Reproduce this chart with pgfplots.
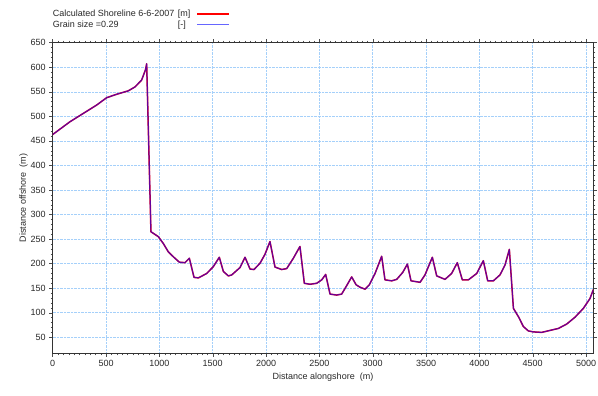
\documentclass[border=0pt]{standalone}
\usepackage{pgfplots}
\pgfplotsset{compat=1.18}
\usepackage{fontspec}
\setmainfont{Liberation Sans}
\definecolor{gridblue}{RGB}{165,208,250}
\definecolor{txt}{RGB}{40,40,40}
\begin{document}
\begin{tikzpicture}
\path[use as bounding box] (-52.7bp,-42.7bp) rectangle (545.3bp,353.3bp);
\begin{axis}[
  scale only axis,
  width=540.6bp, height=310.6bp,
  xmin=0, xmax=5068, ymin=17.4, ymax=650,
  xtick={0,500,...,5000}, ytick={50,100,...,650},
  minor x tick num=9, minor y tick num=4,
  tick align=outside,
  major tick length=3.5bp, minor tick length=2bp,
  every tick/.style={black!70, line width=0.4pt},
  axis line style={black!80, line width=0.6pt},
  grid=major,
  major grid style={gridblue, densely dotted, line width=0.5pt},
  /pgf/number format/assume math mode=true,
  /pgf/number format/1000 sep={},
  ticklabel style={font=\fontsize{9bp}{10bp}\selectfont, text=txt},
  xlabel={Distance alongshore\ \ (m)},
  ylabel={Distance offshore\ \ (m)},
  label style={font=\fontsize{9bp}{10bp}\selectfont, text=txt},
  xlabel style={at={(axis description cs:0.5,0)}, anchor=north, yshift=-19.5bp, inner sep=0pt},
  ylabel style={yshift=-4bp},
  legend plot pos=right,
  legend cell align=left,
  legend style={at={(0,1)}, anchor=south west, yshift=13.2bp, xshift=0bp,
    draw=none, fill=none, inner sep=0pt, row sep=2bp, column sep=6bp,
    font=\fontsize{9bp}{11bp}\selectfont, text=txt,
    nodes={inner sep=0pt, text height=7bp, text depth=2bp}},
  legend image code/.code={\draw[#1] (0bp,0bp) -- (32bp,0bp);},
]
\addplot[red, line width=1.5pt, line join=round] coordinates {
(0,463) (162,489) (287,506) (412,523) (506,538) (600,545) (709,552) (772,560)
(834,574) (870,595) (881,607) (921,265) (990,255) (1037,241) (1084,224)
(1131,214) (1187,203) (1240,202) (1281,211) (1325,172) (1366,171) (1444,180)
(1506,194) (1562,213) (1600,184) (1647,175) (1678,177) (1756,192) (1803,213)
(1850,189) (1887,188) (1944,201) (1990,219) (2037,245) (2084,193) (2147,188)
(2194,190) (2256,211) (2318,235) (2359,160) (2412,158) (2475,160) (2522,167)
(2559,178) (2600,138) (2662,136) (2709,138) (2750,153) (2803,173) (2844,157)
(2881,152) (2928,148) (2969,157) (3022,180) (3084,215) (3115,167) (3178,165)
(3225,168) (3281,182) (3325,199) (3359,165) (3444,162) (3490,177) (3559,213)
(3600,175) (3678,168) (3740,180) (3793,202) (3840,167) (3897,167) (3975,180)
(4037,206) (4078,165) (4131,165) (4193,177) (4240,197) (4281,229) (4319,109)
(4366,92) (4412,72) (4459,63) (4506,61) (4584,60) (4662,64) (4740,68)
(4819,77) (4897,91) (4975,109) (5037,129) (5068,147)
};
\addlegendentry{\makebox[125bp][l]{Calculated Shoreline 6-6-2007}[m]}
\addplot[blue, opacity=0.6, line width=1.2pt, line join=round] coordinates {
(0,463) (162,489) (287,506) (412,523) (506,538) (600,545) (709,552) (772,560)
(834,574) (870,595) (881,607) (921,265) (990,255) (1037,241) (1084,224)
(1131,214) (1187,203) (1240,202) (1281,211) (1325,172) (1366,171) (1444,180)
(1506,194) (1562,213) (1600,184) (1647,175) (1678,177) (1756,192) (1803,213)
(1850,189) (1887,188) (1944,201) (1990,219) (2037,245) (2084,193) (2147,188)
(2194,190) (2256,211) (2318,235) (2359,160) (2412,158) (2475,160) (2522,167)
(2559,178) (2600,138) (2662,136) (2709,138) (2750,153) (2803,173) (2844,157)
(2881,152) (2928,148) (2969,157) (3022,180) (3084,215) (3115,167) (3178,165)
(3225,168) (3281,182) (3325,199) (3359,165) (3444,162) (3490,177) (3559,213)
(3600,175) (3678,168) (3740,180) (3793,202) (3840,167) (3897,167) (3975,180)
(4037,206) (4078,165) (4131,165) (4193,177) (4240,197) (4281,229) (4319,109)
(4366,92) (4412,72) (4459,63) (4506,61) (4584,60) (4662,64) (4740,68)
(4819,77) (4897,91) (4975,109) (5037,129) (5068,147)
};
\addlegendentry{\makebox[125bp][l]{Grain size =0.29}[-]}
\node[anchor=west, inner sep=0pt, font=\fontsize{9bp}{10bp}\selectfont, text=txt]
  at ([yshift=-36.7bp]axis description cs:0,0) {06/06/06 00:00:10:000};
\end{axis}
\end{tikzpicture}
\end{document}
